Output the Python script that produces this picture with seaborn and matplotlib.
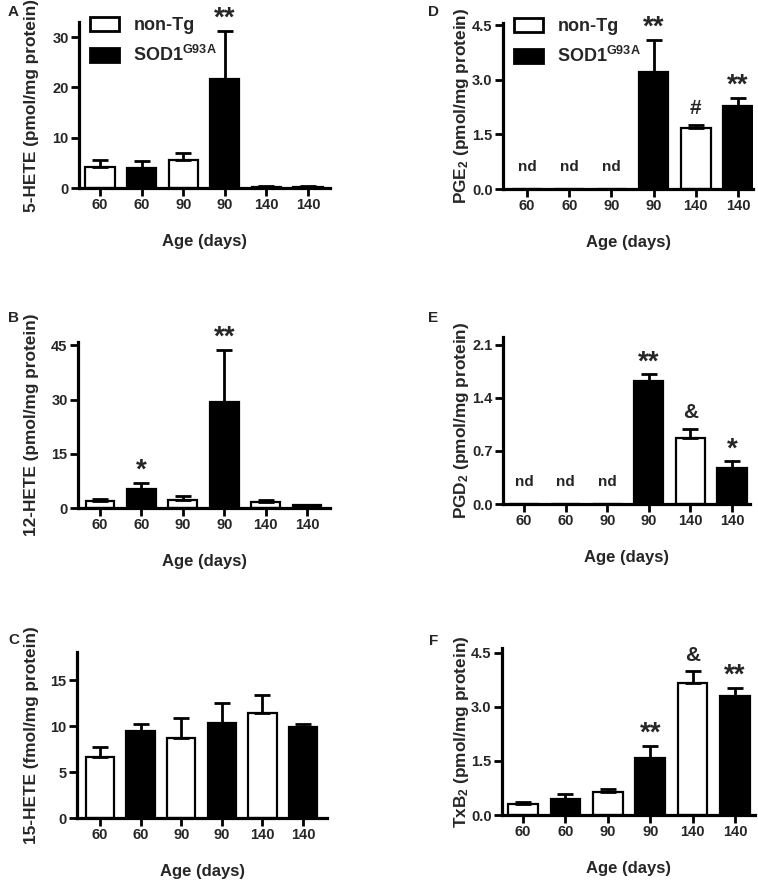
import numpy as np
import pandas as pd
import seaborn as sns
import matplotlib.pyplot as plt
from matplotlib.patches import Patch

sns.set_style("ticks")
plt.rcParams["font.family"] = ["Liberation Sans", "DejaVu Sans"]
plt.rcParams["font.weight"] = "bold"
plt.rcParams["axes.labelweight"] = "bold"
plt.rcParams["mathtext.fontset"] = "custom"
plt.rcParams["mathtext.rm"] = "Liberation Sans:bold"
plt.rcParams["mathtext.bf"] = "Liberation Sans:bold"
plt.rcParams["mathtext.it"] = "Liberation Sans:bold"

# data
ages = ["60", "60", "90", "90", "140", "140"]
groups = ["non-Tg", "SOD1", "non-Tg", "SOD1", "non-Tg", "SOD1"]

hete5_mean = [4.2, 3.9, 5.6, 21.7, 0.2, 0.2]
hete5_upper = [5.6, 5.4, 6.9, 31.2, 0.3, 0.3]
hete12_mean = [2.0, 5.3, 2.1, 29.4, 1.6, 0.7]
hete12_upper = [2.5, 6.9, 3.2, 43.7, 2.3, 0.9]
hete15_mean = [6.7, 9.5, 8.7, 10.4, 11.4, 9.9]
hete15_upper = [7.7, 10.2, 10.9, 12.5, 13.4, 10.2]
pge2_mean = [0, 0, 0, 3.22, 1.68, 2.29]
pge2_upper = [np.nan, np.nan, np.nan, 4.09, 1.76, 2.51]
pgd2_mean = [0, 0, 0, 1.62, 0.87, 0.48]
pgd2_upper = [np.nan, np.nan, np.nan, 1.71, 0.99, 0.56]
txb2_mean = [0.30, 0.44, 0.63, 1.57, 3.65, 3.30]
txb2_upper = [0.35, 0.57, 0.72, 1.91, 3.99, 3.53]

hete5_marks = ["", "", "", "**", "", ""]
hete12_marks = ["", "*", "", "**", "", ""]
hete15_marks = ["", "", "", "", "", ""]
pge2_marks = ["", "", "", "**", "#", "**"]
pgd2_marks = ["", "", "", "**", "&", "*"]
txb2_marks = ["", "", "", "**", "&", "**"]
nd_flags = [True, True, True, False, False, False]

W, H = 758, 880
fig = plt.figure(figsize=(W / 100, H / 100), dpi=100)

# (letter, ylabel, mean, upper, marks, nd?, yticks, fmt, ymax, rect px (l, r, t, b), tick0 px, tick5 px, letter pos, legend)
panels = [
    ("A", "5-HETE (pmol/mg protein)", hete5_mean, hete5_upper, hete5_marks, False,
     [0, 10, 20, 30], "{:.0f}", 33.0, (79, 330, 22, 188), 100, 308, (8, 12), True),
    ("B", "12-HETE (pmol/mg protein)", hete12_mean, hete12_upper, hete12_marks, False,
     [0, 15, 30, 45], "{:.0f}", 45.9, (78, 330, 342, 508), 100, 307, (8, 318), False),
    ("C", "15-HETE (fmol/mg protein)", hete15_mean, hete15_upper, hete15_marks, False,
     [0, 5, 10, 15], "{:.0f}", 18.1, (77, 327, 652, 818), 100, 303, (8, 640), False),
    ("D", r"PGE$_{2}$ (pmol/mg protein)", pge2_mean, pge2_upper, pge2_marks, True,
     [0, 1.5, 3.0, 4.5], "{:.1f}", 4.56, (503, 753, 23, 189), 527, 738, (428, 12), True),
    ("E", r"PGD$_{2}$ (pmol/mg protein)", pgd2_mean, pgd2_upper, pgd2_marks, True,
     [0, 0.7, 1.4, 2.1], "{:.1f}", 2.2, (503, 750, 337, 504), 524, 732, (428, 318), False),
    ("F", r"TxB$_{2}$ (pmol/mg protein)", txb2_mean, txb2_upper, txb2_marks, False,
     [0, 1.5, 3.0, 4.5], "{:.1f}", 4.63, (502, 755, 648, 815), 523, 735, (429, 641), False),
]

pal = {"non-Tg": "white", "SOD1": "black"}

for (letter, ylab, mean, upper, marks, has_nd, yt, fmt, ymax, rect,
     t0, t5, lpos, show_leg) in panels:
    l, r, t, b = rect
    ax = fig.add_axes([l / W, 1 - b / H, (r - l) / W, (b - t) / H])
    df = pd.DataFrame({"pos": range(6), "val": mean, "group": groups})
    sns.barplot(data=df, x="pos", y="val", hue="group", palette=pal, dodge=False,
                width=0.7, edgecolor="black", linewidth=1.6, errorbar=None,
                legend=False, ax=ax)
    up = np.array(upper, dtype=float)
    mv = np.array(mean, dtype=float)
    ok = ~np.isnan(up)
    xs = np.arange(6)[ok]
    ax.errorbar(xs, mv[ok], yerr=[np.zeros(ok.sum()), up[ok] - mv[ok]], fmt="none",
                ecolor="black", elinewidth=2, capsize=6, capthick=2, zorder=1)

    sp = (t5 - t0) / 5
    ax.set_xlim((l - t0) / sp, (r - t0) / sp)
    ax.set_ylim(0, ymax)
    ax.set_xticks(range(6))
    ax.set_xticklabels(ages)
    ax.set_yticks(yt)
    ax.set_yticklabels([fmt.format(v) for v in yt])
    ax.tick_params(axis="both", length=6, width=2, labelsize=10.5, pad=1.5, color="black")
    for s in ["top", "right"]:
        ax.spines[s].set_visible(False)
    for s in ["left", "bottom"]:
        ax.spines[s].set_linewidth(2.3)
        ax.spines[s].set_color("black")

    ax.set_xlabel("Age (days)", fontsize=12)
    ax.xaxis.set_label_coords(0.5, -46 / (b - t))
    ax.set_ylabel(ylab, fontsize=12.4)
    ax.yaxis.set_label_coords((39 - l) / (r - l) if l < 400 else (471 - l) / (r - l), 0.5)

    for i, m in enumerate(marks):
        if not m:
            continue
        fs = 20 if "*" in m else 15
        off = 12 if "*" in m else 16
        ax.annotate(m, xy=(i, upper[i]), xytext=(0, off), textcoords="offset pixels",
                    ha="center", va="center", fontsize=fs, fontweight="bold")
    if has_nd:
        for i, f in enumerate(nd_flags):
            if f:
                ax.annotate("nd", xy=(i, 0), xytext=(0, 22), textcoords="offset pixels",
                            ha="center", va="center", fontsize=11, fontweight="bold")

    if show_leg:
        handles = [Patch(facecolor="white", edgecolor="black", linewidth=2),
                   Patch(facecolor="black", edgecolor="black", linewidth=2)]
        ax.legend(handles, ["non-Tg", r"SOD1$^{\mathrm{G93A}}$"], loc="upper left",
                  bbox_to_anchor=(11 / (r - l), 1.03), frameon=False, fontsize=13,
                  handlelength=1.6, handleheight=0.8, handletextpad=0.8,
                  labelspacing=0.6, borderpad=0, borderaxespad=0)

    fig.text(lpos[0] / W, 1 - lpos[1] / H, letter, fontsize=11, fontweight="bold",
             ha="left", va="center")

fig.savefig("out.png", dpi=100)
